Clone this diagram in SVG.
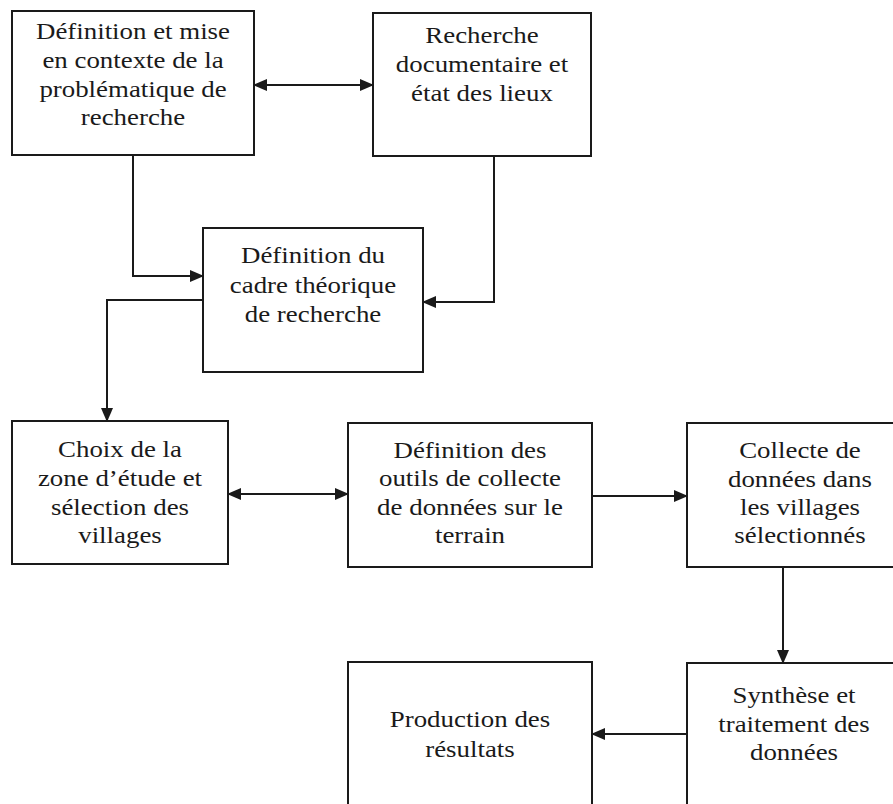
<svg xmlns="http://www.w3.org/2000/svg" width="893" height="804" viewBox="0 0 893 804">
<defs>
<marker id="ah" markerUnits="userSpaceOnUse" markerWidth="14" markerHeight="12" refX="13" refY="6" orient="auto-start-reverse">
<path d="M0,0 L14,6 L0,12 z" fill="#1a1a1a"/>
</marker>
<style>
.box{fill:#fff;stroke:#1a1a1a;stroke-width:2}
.c{fill:none;stroke:#1a1a1a;stroke-width:2}
.t{font-family:"Liberation Serif","Times New Roman",serif;font-size:24px;fill:#1a1a1a;text-anchor:middle}
</style>
</defs>
<rect width="893" height="804" fill="#fff"/>
<g id="n1">
<rect class="box" x="12" y="11" width="242" height="144"/>
<g transform="translate(133,0) scale(1.12,1)">
<text class="t" x="0" y="39">Définition et mise</text>
<text class="t" x="0" y="68">en contexte de la</text>
<text class="t" x="0" y="97">problématique de</text>
<text class="t" x="0" y="125">recherche</text>
</g>
</g>
<g id="n2">
<rect class="box" x="373" y="13" width="218" height="143"/>
<g transform="translate(482,0) scale(1.12,1)">
<text class="t" x="0" y="43">Recherche</text>
<text class="t" x="0" y="72">documentaire et</text>
<text class="t" x="0" y="101">état des lieux</text>
</g>
</g>
<g id="n3">
<rect class="box" x="203" y="228" width="220" height="144"/>
<g transform="translate(313,0) scale(1.12,1)">
<text class="t" x="0" y="263">Définition du</text>
<text class="t" x="0" y="293">cadre théorique</text>
<text class="t" x="0" y="322">de recherche</text>
</g>
</g>
<g id="n4">
<rect class="box" x="12" y="421" width="216" height="143"/>
<g transform="translate(120,0) scale(1.12,1)">
<text class="t" x="0" y="457">Choix de la</text>
<text class="t" x="0" y="486">zone d’étude et</text>
<text class="t" x="0" y="515">sélection des</text>
<text class="t" x="0" y="543">villages</text>
</g>
</g>
<g id="n5">
<rect class="box" x="348" y="423" width="244" height="144"/>
<g transform="translate(470,0) scale(1.12,1)">
<text class="t" x="0" y="458">Définition des</text>
<text class="t" x="0" y="486">outils de collecte</text>
<text class="t" x="0" y="515">de données sur le</text>
<text class="t" x="0" y="543">terrain</text>
</g>
</g>
<g id="n6">
<rect class="box" x="687" y="423" width="230" height="144"/>
<g transform="translate(800,0) scale(1.12,1)">
<text class="t" x="0" y="458">Collecte de</text>
<text class="t" x="0" y="487">données dans</text>
<text class="t" x="0" y="515">les villages</text>
<text class="t" x="0" y="543">sélectionnés</text>
</g>
</g>
<g id="n7">
<rect class="box" x="687" y="663" width="230" height="160"/>
<g transform="translate(794,0) scale(1.12,1)">
<text class="t" x="0" y="703">Synthèse et</text>
<text class="t" x="0" y="732">traitement des</text>
<text class="t" x="0" y="760">données</text>
</g>
</g>
<g id="n8">
<rect class="box" x="348" y="662" width="244" height="160"/>
<g transform="translate(470,0) scale(1.12,1)">
<text class="t" x="0" y="727">Production des</text>
<text class="t" x="0" y="757">résultats</text>
</g>
</g>
<g id="connectors">
<path class="c" d="M254,85 L373,85" marker-start="url(#ah)" marker-end="url(#ah)"/>
<path class="c" d="M133,155 L133,276 L203,276" marker-end="url(#ah)"/>
<path class="c" d="M494,156 L494,302 L423,302" marker-end="url(#ah)"/>
<path class="c" d="M203,300 L107,300 L107,421" marker-end="url(#ah)"/>
<path class="c" d="M228,494 L348,494" marker-start="url(#ah)" marker-end="url(#ah)"/>
<path class="c" d="M592,496 L687,496" marker-end="url(#ah)"/>
<path class="c" d="M783,567 L783,663" marker-end="url(#ah)"/>
<path class="c" d="M687,734 L592,734" marker-end="url(#ah)"/>
</g>
</svg>
